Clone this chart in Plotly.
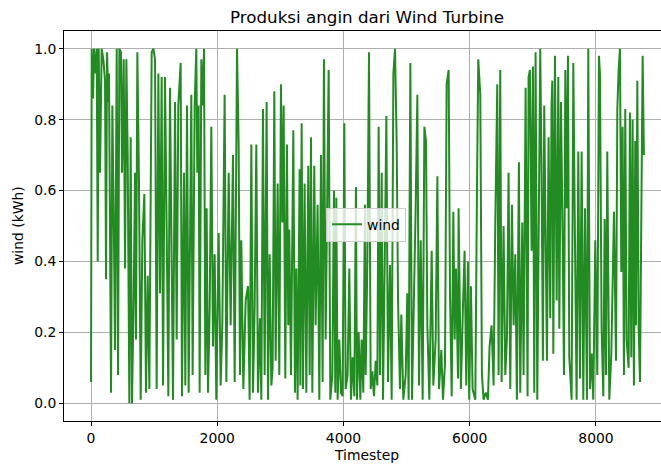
import plotly.graph_objects as go

# Timestep of each turning point
timestep = [
    0, 11, 32, 48, 74, 90, 106, 122, 143, 169, 195, 222, 238, 254, 275, 285, 317, 338, 364, 380, 407, 428, 449, 475, 491, 518, 539, 560, 581, 607, 628, 649, 676, 697, 713, 734, 760, 787, 813, 845, 871, 898, 924, 961, 988, 1014, 1040, 1067, 1093, 1119, 1141, 1172, 1199, 1225, 1251, 1278, 1299, 1331, 1357, 1383,
    1420, 1441, 1473, 1494, 1521, 1547, 1568, 1589, 1610, 1642, 1668, 1684, 1705, 1721, 1748, 1769, 1790, 1811, 1832, 1853, 1880, 1906, 1932, 1959, 1985, 2022, 2054, 2080, 2117, 2144, 2181, 2212, 2249, 2276, 2313, 2339, 2360, 2381, 2413, 2450, 2487, 2513, 2540, 2566, 2592, 2619, 2645, 2677, 2698, 2724, 2751, 2782, 2804, 2830, 2857,
    2877, 2904, 2925, 2957, 2983, 3009, 3031, 3052, 3078, 3104, 3125, 3141, 3168, 3205, 3231, 3252, 3273, 3305, 3316, 3337, 3358, 3384, 3411, 3442, 3464, 3485, 3506, 3537, 3558, 3590, 3617, 3643, 3669, 3690, 3717, 3765, 3791, 3823, 3849, 3870, 3886, 3907, 3934, 3960, 3986, 4013, 4034, 4065, 4092, 4118, 4145, 4171, 4197, 4213, 4240, 4267, 4287, 4314, 4340,
    4351, 4378, 4404, 4431, 4457, 4483, 4510, 4536, 4557, 4578, 4605, 4626, 4652, 4679, 4705, 4737, 4763, 4790, 4816, 4842, 4864, 4895, 4916, 4948, 4985, 5011, 5032, 5059, 5085, 5117, 5143, 5170, 5196, 5223, 5254, 5281, 5307, 5328, 5360, 5397, 5423, 5460, 5487, 5513, 5550, 5576, 5608, 5634, 5666, 5687, 5714, 5740, 5761, 5782, 5814,
    5823, 5860, 5892, 5918, 5945, 5971, 5992, 6019, 6045, 6088, 6114, 6135, 6167, 6193, 6219, 6256, 6288, 6314, 6346, 6378, 6404, 6436, 6457, 6483, 6505, 6536, 6563, 6589, 6615, 6642, 6668, 6695, 6721, 6747, 6779, 6800, 6832, 6853, 6885, 6916, 6932, 6953, 6980, 7001, 7022, 7043, 7070, 7096, 7117, 7138, 7159, 7180, 7202, 7223, 7249, 7275, 7296,
    7308, 7324, 7350, 7377, 7403, 7419, 7445, 7472, 7493, 7514, 7535, 7556, 7577, 7614, 7641, 7662, 7693, 7720, 7746, 7773, 7799, 7825, 7857, 7878, 7905, 7931, 7957, 7989, 8021, 8047, 8063, 8089, 8116, 8137, 8158, 8179, 8211, 8243, 8264, 8285, 8317, 8338, 8359, 8380, 8401, 8422, 8443, 8464, 8485, 8517, 8538, 8559, 8580, 8601, 8622, 8633, 8655, 8676, 8697, 8718, 8739, 8759,
]

# Wind production (kWh) at each turning point
wind = [
    0.06, 1.00, 0.86, 1.00, 0.93, 1.00, 0.40, 1.00, 0.65, 1.00, 0.97, 0.91, 0.35, 0.99, 0.85, 0.93, 0.03, 0.84, 0.46, 0.15, 1.00, 0.08, 1.00, 0.99, 0.65, 0.97, 0.38, 0.97, 0.70, 0.00, 0.75, 0.00, 0.29, 0.65, 0.18, 0.99, 0.62, 0.01, 0.46, 0.59, 0.03, 0.36, 0.04, 0.99, 1.00, 0.97, 0.04, 0.93, 0.31, 0.92, 0.05, 0.92, 0.48, 0.02, 0.89, 0.36, 0.01, 0.85, 0.18, 0.84,
    0.96, 0.02, 0.65, 0.05, 0.84, 0.03, 0.55, 0.87, 0.08, 0.84, 1.00, 0.65, 0.84, 0.03, 0.97, 0.84, 1.00, 0.08, 0.55, 0.03, 0.27, 0.78, 0.16, 0.42, 0.01, 0.48, 0.05, 0.22, 0.87, 0.06, 0.65, 0.22, 0.70, 0.06, 1.00, 0.73, 0.08, 0.46, 0.04, 0.29, 0.33, 0.01, 0.73, 0.03, 0.27, 0.73, 0.03, 0.24, 0.01, 0.83, 0.08, 0.85, 0.01, 0.42, 0.05,
    0.10, 0.88, 0.12, 0.62, 0.08, 0.90, 0.51, 0.84, 0.07, 0.73, 0.22, 0.49, 0.08, 0.77, 0.03, 0.38, 0.01, 0.66, 0.05, 0.79, 0.04, 0.62, 0.03, 0.67, 0.08, 0.75, 0.03, 0.67, 0.22, 0.56, 0.01, 0.70, 0.06, 0.97, 0.18, 0.94, 0.01, 0.08, 0.60, 0.03, 0.58, 0.01, 0.18, 0.03, 0.02, 0.79, 0.04, 0.08, 0.38, 0.01, 0.13, 0.02, 0.61, 0.01, 0.20, 0.01, 0.18, 0.03, 0.56,
    0.08, 0.40, 0.99, 0.04, 0.09, 0.02, 0.12, 0.05, 0.78, 0.08, 0.65, 0.01, 0.38, 0.81, 0.06, 0.39, 0.01, 0.93, 1.00, 0.74, 0.29, 0.04, 0.25, 0.01, 0.08, 0.31, 0.01, 0.96, 0.01, 0.29, 0.55, 0.87, 0.05, 0.46, 0.01, 0.78, 0.74, 0.22, 0.01, 0.43, 0.05, 0.18, 0.64, 0.04, 0.15, 0.01, 0.11, 0.90, 0.94, 0.31, 0.02, 0.54, 0.18, 0.38, 0.07,
    0.55, 0.04, 0.27, 0.43, 0.05, 0.40, 0.01, 0.33, 0.04, 0.01, 0.59, 0.97, 0.87, 0.08, 0.01, 0.03, 0.01, 0.16, 0.22, 0.05, 0.50, 0.90, 0.08, 0.94, 0.06, 0.50, 0.08, 0.18, 0.65, 0.04, 0.56, 0.22, 0.42, 0.01, 0.68, 0.03, 0.51, 0.08, 0.89, 0.02, 0.92, 0.94, 0.43, 0.95, 0.03, 0.99, 0.01, 0.60, 1.00, 0.65, 0.12, 0.84, 0.49, 0.12, 0.75, 0.24, 0.84,
    0.91, 0.14, 0.98, 0.29, 0.92, 0.21, 0.85, 0.46, 0.08, 0.94, 0.55, 0.98, 0.13, 0.01, 0.96, 0.55, 0.01, 0.71, 0.07, 0.71, 0.01, 0.55, 0.01, 1.00, 0.04, 0.14, 0.01, 0.46, 0.08, 0.98, 0.93, 0.21, 0.02, 0.52, 0.08, 0.71, 0.01, 0.14, 0.37, 0.54, 0.12, 0.83, 0.94, 1.00, 0.37, 0.78, 0.08, 0.83, 0.18, 0.10, 0.82, 0.13, 0.80, 0.05, 0.74, 0.22, 0.91, 0.21, 0.06, 0.57, 0.98, 0.70,
]

x_ticks = [0, 2000, 4000, 6000, 8000]
y_ticks = [0.0, 0.2, 0.4, 0.6, 0.8, 1.0]
y_tick_labels = ["0.0", "0.2", "0.4", "0.6", "0.8", "1.0"]

font_family = "DejaVu Sans, sans-serif"
tick_size = 13.9

fig = go.Figure()
fig.add_trace(go.Scatter(
    x=timestep, y=wind, mode="lines", name="wind",
    line=dict(color="#228B22", width=2),
))

fig.update_layout(
    width=661, height=464,
    margin=dict(l=64, r=0, t=31, b=43, autoexpand=False),
    paper_bgcolor="white", plot_bgcolor="white",
    font=dict(family=font_family, size=tick_size, color="black"),
    title=dict(text="Produksi angin dari Wind Turbine", x=367 / 661, xref="container",
               xanchor="center", y=1 - 17 / 464, yref="container", yanchor="middle",
               font=dict(size=16.7, color="black", family=font_family)),
    showlegend=True,
    legend=dict(x=0.506, y=0.503, xanchor="center", yanchor="middle",
                bgcolor="rgba(255,255,255,0.8)", bordercolor="#cccccc",
                borderwidth=1, font=dict(size=tick_size, color="black"),
                itemwidth=30),
    hovermode=False,
    annotations=[
        dict(text="Timestep", xref="paper", yref="paper", x=0.5075, y=-0.087,
             xanchor="center", yanchor="middle", showarrow=False,
             font=dict(size=tick_size, color="black")),
        dict(text="wind (kWh)", xref="paper", yref="paper", x=-0.077, y=0.5,
             xanchor="center", yanchor="middle", showarrow=False, textangle=-90,
             font=dict(size=tick_size, color="black")),
    ],
)
fig.update_xaxes(
    range=[-428, 9030], tickvals=x_ticks, ticks="outside", ticklen=4,
    tickcolor="black", showline=True, linecolor="black", linewidth=1,
    mirror=True, showgrid=True, gridcolor="#b0b0b0", gridwidth=0.8,
    zeroline=False, automargin=False,
)
fig.update_yaxes(
    range=[-0.05, 1.05], tickvals=y_ticks, ticktext=y_tick_labels,
    ticks="outside", ticklen=4, tickcolor="black", showline=True,
    linecolor="black", linewidth=1, mirror=False, showgrid=True,
    gridcolor="#b0b0b0", gridwidth=0.8, zeroline=False, automargin=False,
)

fig.write_html(
    "out.html",
    config={"displayModeBar": False},
    post_script="document.body.style.margin='0px';document.body.style.overflow='hidden';",
)
